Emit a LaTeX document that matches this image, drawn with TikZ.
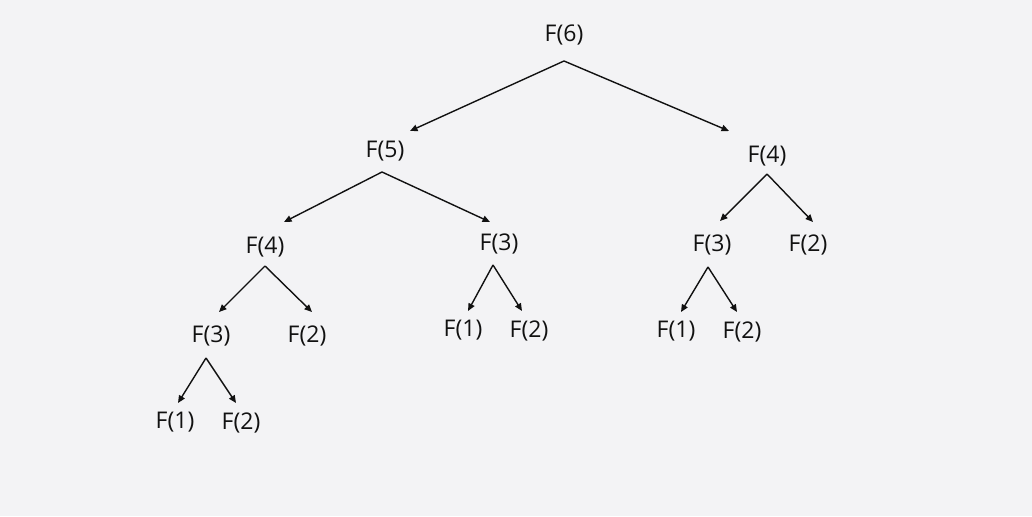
\documentclass[tikz,border=0pt]{standalone}
\usepackage{fontspec}
\setmainfont{Open Sans}
\usetikzlibrary{arrows.meta,calc}
\definecolor{bg}{HTML}{F3F3F5}
\definecolor{ink}{HTML}{111111}
\begin{document}
\begin{tikzpicture}[x=1pt,y=-1pt,
  lbl/.style={inner sep=0pt,text=ink,font=\fontsize{23}{26}\selectfont},
  arr/.style={draw=ink,line width=1.4pt,-{Triangle[length=7.5pt,width=6.5pt]}}]
\fill[bg] (0,0) rectangle (1032,516);
\useasboundingbox (0,0) rectangle (1032,516);
\node[lbl] (a) at (564,34.5) {F(6)};
\node[lbl] (b) at (385,151.5) {F(5)};
\node[lbl] (c) at (767,156.5) {F(4)};
\node[lbl] (d) at (265,247.5) {F(4)};
\node[lbl] (e) at (499,243.5) {F(3)};
\node[lbl] (f) at (712,244.5) {F(3)};
\node[lbl] (g) at (808,244.5) {F(2)};
\node[lbl] (h) at (211,335.5) {F(3)};
\node[lbl] (i) at (307,335.5) {F(2)};
\node[lbl] (j) at (463,330.5) {F(1)};
\node[lbl] (k) at (529,330.5) {F(2)};
\node[lbl] (l) at (676,331.5) {F(1)};
\node[lbl] (m) at (742,331.5) {F(2)};
\node[lbl] (n) at (175,422.5) {F(1)};
\node[lbl] (o) at (241,422.5) {F(2)};
% connectors
\draw[arr] ($(a)+(0,26.5)$) -- ($(b)+(25,-20.5)$);
\draw[arr] ($(a)+(0,26.5)$) -- ($(c)+(-38,-25.5)$);
\draw[arr] ($(b)+(-3,20.5)$) -- ($(d)+(19,-25.5)$);
\draw[arr] ($(b)+(-3,20.5)$) -- ($(e)+(-9,-21.5)$);
\draw[arr] ($(c)+(0,17.5)$) -- ($(f)+(8,-23.5)$);
\draw[arr] ($(c)+(0,17.5)$) -- ($(g)+(5,-22.5)$);
\draw[arr] ($(d)+(0,18.5)$) -- ($(h)+(8,-23.5)$);
\draw[arr] ($(d)+(0,18.5)$) -- ($(i)+(5,-23.5)$);
\draw[arr] ($(e)+(-6,21.5)$) -- ($(j)+(5,-19.5)$);
\draw[arr] ($(e)+(-6,21.5)$) -- ($(k)+(-7,-19.5)$);
\draw[arr] ($(f)+(-4,22.5)$) -- ($(l)+(5,-19.5)$);
\draw[arr] ($(f)+(-4,22.5)$) -- ($(m)+(-5,-19.5)$);
\draw[arr] ($(h)+(-5,22.5)$) -- ($(n)+(3,-19.5)$);
\draw[arr] ($(h)+(-5,22.5)$) -- ($(o)+(-5,-19.5)$);
\end{tikzpicture}
\end{document}
